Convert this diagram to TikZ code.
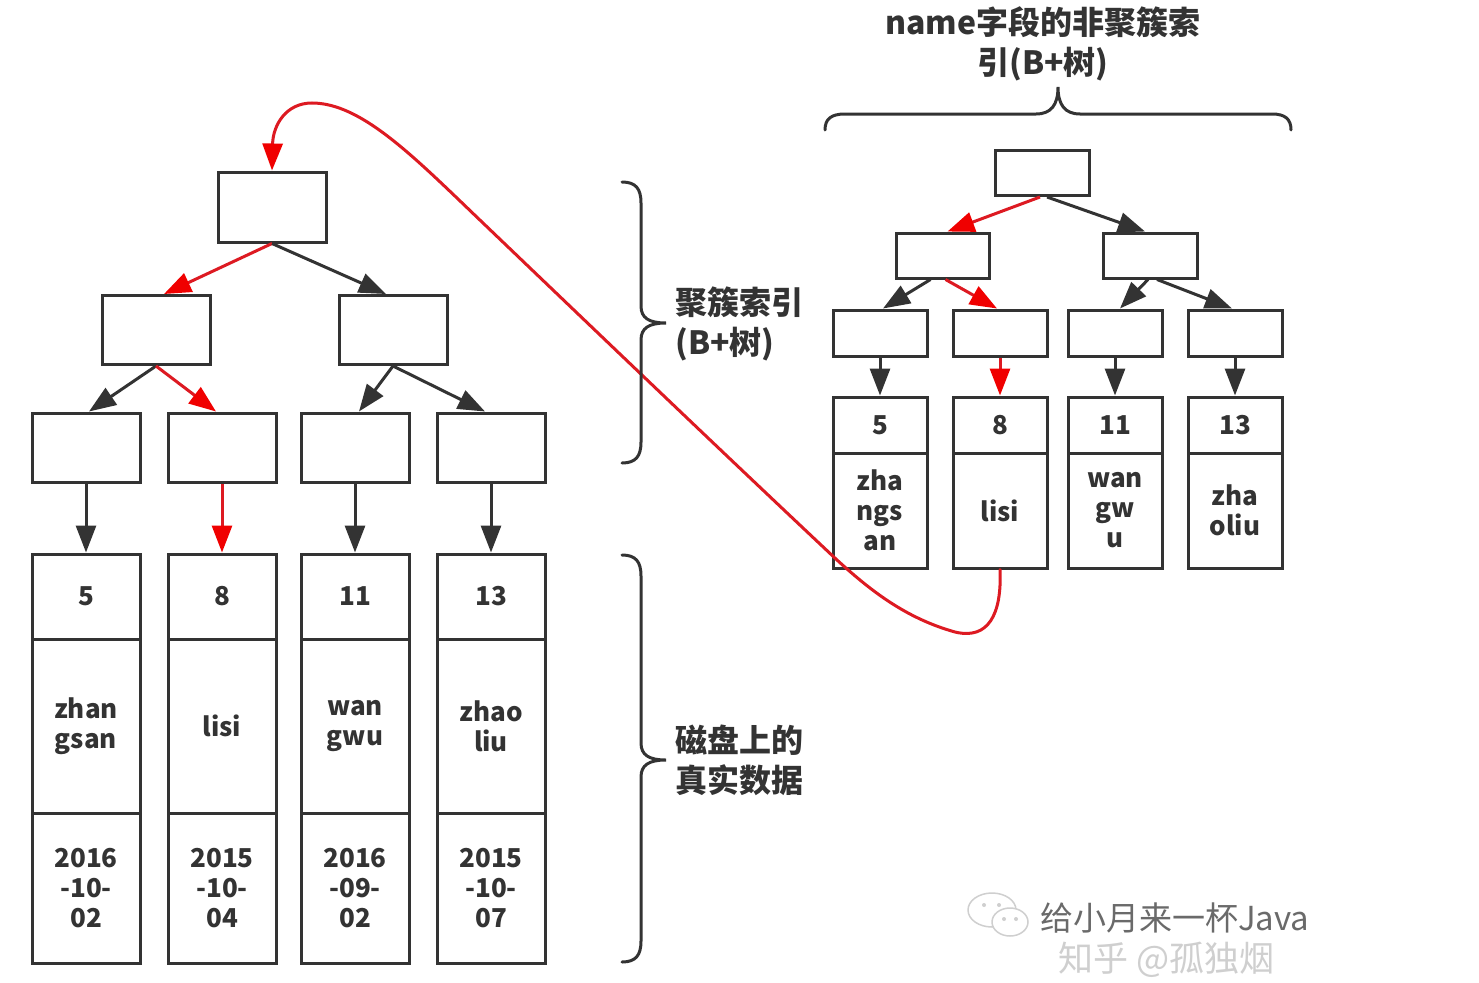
\documentclass[tikz,border=0pt]{standalone}
\usepackage{fontspec}
\setmainfont{Noto Sans CJK SC}
\usetikzlibrary{arrows.meta}
\definecolor{ink}{HTML}{333333}
\definecolor{redline}{HTML}{DD1A22}
\definecolor{redhead}{HTML}{F00000}
\definecolor{wm}{HTML}{6A6A6A}
\definecolor{wmlight}{HTML}{CFCFCF}
\tikzset{
  box/.style={draw=ink, line width=3pt, fill=white, inner sep=0pt, text=ink,
    font=\bfseries\fontsize{26}{30}\selectfont, align=center},
  conn/.style={draw=ink, line width=3pt, -{Triangle[length=27pt,width=20pt]}},
  redconn/.style={draw=redline, line width=3pt, -{Triangle[length=27pt,width=20pt,color=redhead]}},
  bracestyle/.style={draw=ink, line width=3pt, line cap=round},
  lbl/.style={text=ink, font=\bfseries\fontsize{32}{40}\selectfont, inner sep=0pt},
}
\begin{document}
\begin{tikzpicture}[x=1pt,y=-1pt]
\useasboundingbox (0,0) rectangle (1479,982);
\clip (0,0) rectangle (1479,982);
\fill[white] (0,0) rectangle (1479,982);

% ---------- left tree (clustered index) ----------
\node[box, minimum width=108pt, minimum height=70pt] (L0) at (272,207) {};
\node[box, minimum width=108pt, minimum height=69pt] (L1a) at (156,330) {};
\node[box, minimum width=108pt, minimum height=69pt] (L1b) at (393,330) {};
\foreach \n/\x in {a/86,b/222,c/355,d/491}{
  \node[box, minimum width=108pt, minimum height=69pt] (L2\n) at (\x,447.5) {};
}
% records
\foreach \n/\x/\k/\nm/\dt in {a/86/5/{zhan\\gsan}/{2016\\-10-\\02},
                               b/222/8/{lisi}/{2015\\-10-\\04},
                               c/355/11/{wan\\gwu}/{2016\\-09-\\02},
                               d/491/13/{zhao\\liu}/{2015\\-10-\\07}}{
  \node[box, minimum width=108pt, minimum height=85pt] (LK\n) at (\x,596.5) {\k};
  \node[box, minimum width=108pt, minimum height=174pt] (LN\n) at (\x,726) {\nm};
  \node[box, minimum width=108pt, minimum height=150pt] (LD\n) at (\x,888) {\dt};
}

\draw[redconn] (L0.south) -- ([xshift=8pt]L1a.north);
\draw[conn] (L0.south) -- ([xshift=-7pt]L1b.north);
\draw[conn] (L1a.south) -- ([xshift=3pt]L2a.north);
\draw[redconn] (L1a.south) -- ([xshift=-6pt]L2b.north);
\draw[conn] (L1b.south) -- ([xshift=4pt]L2c.north);
\draw[conn] (L1b.south) -- ([xshift=-6pt]L2d.north);
\draw[conn] (L2a.south) -- (LKa.north);
\draw[redconn] (L2b.south) -- (LKb.north);
\draw[conn] (L2c.south) -- (LKc.north);
\draw[conn] (L2d.south) -- (LKd.north);

% ---------- right tree (secondary index on name) ----------
\node[box, minimum width=94pt, minimum height=45pt] (R0) at (1042,173) {};
\node[box, minimum width=93pt, minimum height=45pt] (R1a) at (942.5,255.5) {};
\node[box, minimum width=94pt, minimum height=45pt] (R1b) at (1150,255.5) {};
\foreach \n/\x in {a/880,b/1000,c/1115,d/1235}{
  \node[box, minimum width=94pt, minimum height=46pt] (R2\n) at (\x,333) {};
}
\foreach \n/\x/\k/\nm in {a/880/5/{zha\\ngs\\an}, b/1000/8/{lisi},
                          c/1115/11/{wan\\gw\\u}, d/1235/13/{zha\\oliu}}{
  \node[box, minimum width=94pt, minimum height=56pt] (RK\n) at (\x,425) {\k};
  \node[box, minimum width=94pt, minimum height=115pt] (RN\n) at (\x,510.5) {\nm};
}

\draw[redconn] ([xshift=-2pt]R0.south) -- ([xshift=5pt]R1a.north);
\draw[conn] ([xshift=5pt]R0.south) -- ([xshift=-5pt]R1b.north);
\draw[conn] ([xshift=-12pt]R1a.south) -- ([xshift=3pt]R2a.north);
\draw[redconn] ([xshift=3pt]R1a.south) -- ([xshift=-3pt]R2b.north);
\draw[conn] ([xshift=-2pt]R1b.south) -- ([xshift=5pt]R2c.north);
\draw[conn] ([xshift=7pt]R1b.south) -- ([xshift=-3pt]R2d.north);
\draw[conn] (R2a.south) -- (RKa.north);
\draw[redconn] (R2b.south) -- (RKb.north);
\draw[conn] (R2c.south) -- (RKc.north);
\draw[conn] (R2d.south) -- (RKd.north);

% ---------- red link from secondary leaf back to clustered root ----------
\draw[redconn, line cap=round]
  (RNb.south) .. controls (1002,615) and (988,640) .. (955,632)
  .. controls (905,618) and (870,590) .. (837,560)
  .. controls (720,450) and (600,335) .. (483,223)
  .. controls (415,158) and (362,103) .. (312,103)
  .. controls (286,103) and (273,125) .. (L0.north);

% ---------- braces ----------
\draw[bracestyle] (622,182) .. controls (636,182) and (641,189) .. (641,203)
  -- (641,306) .. controls (641,318) and (649,323) .. (666,323)
  .. controls (649,323) and (641,328) .. (641,340)
  -- (641,442) .. controls (641,456) and (636,463) .. (622,463);
\draw[bracestyle] (622,555) .. controls (636,555) and (641,562) .. (641,576)
  -- (641,743) .. controls (641,755) and (649,760) .. (666,760)
  .. controls (649,760) and (641,765) .. (641,777)
  -- (641,941) .. controls (641,955) and (636,962) .. (622,962);
\draw[bracestyle] (825,130) .. controls (825,119) and (831,114) .. (845,114)
  -- (1036,114) .. controls (1051,114) and (1058,105) .. (1058,87)
  .. controls (1058,105) and (1065,114) .. (1080,114)
  -- (1272,114) .. controls (1285,114) and (1291,119) .. (1291,130);

% ---------- labels ----------
\node[lbl, align=center] (topl) at (1043,44) {name字段的非聚簇索\\引(B+树)};
\node[lbl, align=left, anchor=west] (cl) at (675,324) {聚簇索引\\(B+树)};
\node[lbl, align=left, anchor=west] (dl) at (675,760) {磁盘上的\\真实数据};

% ---------- watermark ----------
\begin{scope}[draw=wmlight, line width=1.5pt]
  \draw (992,910) ellipse [x radius=24pt, y radius=17pt];
  \filldraw[fill=white] (1010,922) ellipse [x radius=18pt, y radius=14pt];
  \fill[wmlight] (984,905) circle (2pt) (999,905) circle (2pt)
                 (1004,919) circle (2pt) (1016,919) circle (2pt);
\end{scope}
\node[text=wm, font=\fontsize{33}{36}\selectfont, anchor=west, inner sep=0pt] (wm1) at (1040,918) {给小月来一杯Java};
\node[text=wmlight, font=\fontsize{35}{38}\selectfont, anchor=west, inner sep=0pt] (wm2) at (1058,960) {知乎 @孤独烟};
\end{tikzpicture}
\end{document}
